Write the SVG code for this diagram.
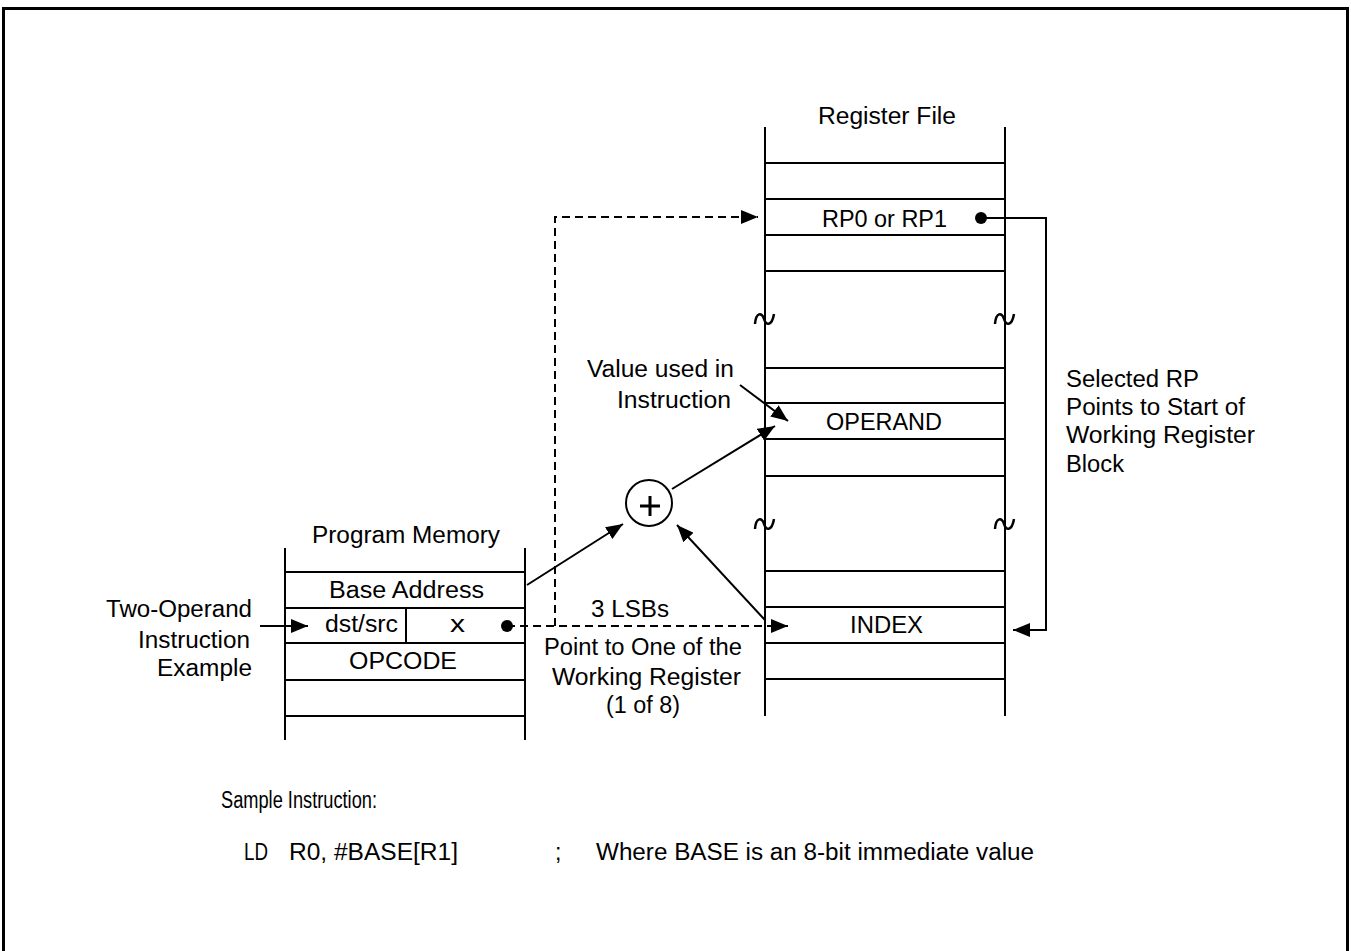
<svg xmlns="http://www.w3.org/2000/svg" width="1351" height="951" viewBox="0 0 1351 951">
<style>
.ln{stroke:#000;stroke-width:2;fill:none}
.ds{stroke:#000;stroke-width:2;fill:none;stroke-dasharray:8,5}
.t{font-family:"Liberation Sans",Arial,sans-serif;font-size:23px;fill:#000}
.td{stroke:#000;stroke-width:2.5;fill:none}
</style>
<defs>
<marker id="ah" markerUnits="userSpaceOnUse" markerWidth="18" markerHeight="14" refX="17" refY="7" orient="auto">
<path d="M0,0 L17,7 L0,14 z" fill="#000"/>
</marker>
</defs>
<rect width="1351" height="951" fill="#fff"/>
<g id="frame">
<path d="M3.5,951 V8.5 H1347.5 V951" stroke="#000" stroke-width="3" fill="none"/>
</g>
<g id="register-file">
<text class="t" x="818" y="124" textLength="138" lengthAdjust="spacingAndGlyphs">Register File</text>
<path class="ln" d="M765,127 V716 M1005,127 V716"/>
<path class="ln" d="M765,163 H1005 M765,199 H1005 M765,235 H1005 M765,271 H1005 M765,368 H1005 M765,403 H1005 M765,439 H1005 M765,476 H1005 M765,571 H1005 M765,607 H1005 M765,643 H1005 M765,679 H1005"/>
<path class="td" d="M755,324 C756,312 762,312 764,319 C766,326 772,326 774,314"/>
<path class="td" d="M995,324 C996,312 1002,312 1004,319 C1006,326 1012,326 1014,314"/>
<path class="td" d="M755,529 C756,517 762,517 764,524 C766,531 772,531 774,519"/>
<path class="td" d="M995,529 C996,517 1002,517 1004,524 C1006,531 1012,531 1014,519"/>
<text class="t" x="822" y="227" textLength="125" lengthAdjust="spacingAndGlyphs">RP0 or RP1</text>
<text class="t" x="826" y="430" textLength="116" lengthAdjust="spacingAndGlyphs">OPERAND</text>
<text class="t" x="850" y="633" textLength="73" lengthAdjust="spacingAndGlyphs">INDEX</text>
</g>
<g id="program-memory">
<text class="t" x="312" y="543" textLength="188" lengthAdjust="spacingAndGlyphs">Program Memory</text>
<path class="ln" d="M285,548 V740 M525,548 V740"/>
<path class="ln" d="M285,572 H525 M285,608 H525 M285,643 H525 M285,680 H525 M285,716 H525 M406,608 V643"/>
<text class="t" x="329" y="598" textLength="155" lengthAdjust="spacingAndGlyphs">Base Address</text>
<text class="t" x="325" y="632" textLength="73" lengthAdjust="spacingAndGlyphs">dst/src</text>
<text class="t" x="450" y="632" textLength="15" lengthAdjust="spacingAndGlyphs">x</text>
<text class="t" x="349" y="669" textLength="108" lengthAdjust="spacingAndGlyphs">OPCODE</text>
</g>
<g id="adder">
<circle cx="649" cy="503" r="23" stroke="#000" stroke-width="2" fill="#fff"/>
<path d="M640,506 H660 M650,496 V516" stroke="#000" stroke-width="3"/>
</g>
<g id="labels">
<text class="t" x="106" y="617" textLength="146" lengthAdjust="spacingAndGlyphs">Two-Operand</text>
<text class="t" x="138" y="648" textLength="112" lengthAdjust="spacingAndGlyphs">Instruction</text>
<text class="t" x="157" y="676" textLength="95" lengthAdjust="spacingAndGlyphs">Example</text>
<text class="t" x="587" y="377" textLength="147" lengthAdjust="spacingAndGlyphs">Value used in</text>
<text class="t" x="617" y="408" textLength="114" lengthAdjust="spacingAndGlyphs">Instruction</text>
<text class="t" x="591" y="617" textLength="78" lengthAdjust="spacingAndGlyphs">3 LSBs</text>
<text class="t" x="544" y="655" textLength="198" lengthAdjust="spacingAndGlyphs">Point to One of the</text>
<text class="t" x="552" y="685" textLength="189" lengthAdjust="spacingAndGlyphs">Working Register</text>
<text class="t" x="606" y="713" textLength="74" lengthAdjust="spacingAndGlyphs">(1 of 8)</text>
<text class="t" x="1066" y="387" textLength="133" lengthAdjust="spacingAndGlyphs">Selected RP</text>
<text class="t" x="1066" y="415" textLength="179" lengthAdjust="spacingAndGlyphs">Points to Start of</text>
<text class="t" x="1066" y="443" textLength="189" lengthAdjust="spacingAndGlyphs">Working Register</text>
<text class="t" x="1066" y="472" textLength="58" lengthAdjust="spacingAndGlyphs">Block</text>
<text class="t" x="221" y="808" textLength="156" lengthAdjust="spacingAndGlyphs">Sample Instruction:</text>
<text class="t" x="244" y="860" textLength="24" lengthAdjust="spacingAndGlyphs">LD</text>
<text class="t" x="289" y="860" textLength="169" lengthAdjust="spacingAndGlyphs">R0, #BASE[R1]</text>
<text class="t" x="555" y="860">;</text>
<text class="t" x="596" y="860" textLength="438" lengthAdjust="spacingAndGlyphs">Where BASE is an 8-bit immediate value</text>
</g>
<g id="connectors">
<path class="ds" d="M507,626 H788" marker-end="url(#ah)"/>
<path class="ds" d="M555,626 V217 H758" marker-end="url(#ah)"/>
<circle cx="507" cy="626" r="6" fill="#000"/>
<path class="ln" d="M981,218 H1046 V630 H1013" marker-end="url(#ah)"/>
<circle cx="981" cy="218" r="6" fill="#000"/>
<path class="ln" d="M260,626 H308" marker-end="url(#ah)"/>
<path class="ln" d="M527,585 L623,524" marker-end="url(#ah)"/>
<path class="ln" d="M672,489 L775,426" marker-end="url(#ah)"/>
<path class="ln" d="M740,385 L788,421" marker-end="url(#ah)"/>
<path class="ln" d="M765,620 L677,525" marker-end="url(#ah)"/>
</g>
</svg>
